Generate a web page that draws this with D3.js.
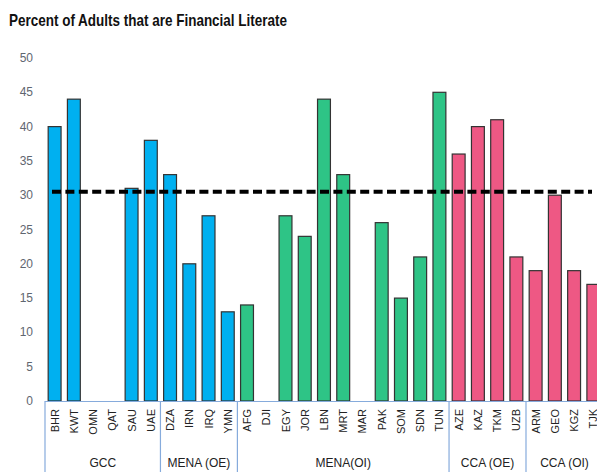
<!DOCTYPE html>
<html>
<head>
<meta charset="utf-8">
<script src="https://cdn.jsdelivr.net/npm/d3@7"></script>
<style>
  body { margin: 0; background: #fff; }
  svg { display: block; }
</style>
</head>
<body>
<div class="chart"></div>
<script>
// data
var countries = ["BHR","KWT","OMN","QAT","SAU","UAE",
                 "DZA","IRN","IRQ","YMN",
                 "AFG","DJI","EGY","JOR","LBN","MRT","MAR","PAK","SOM","SDN","TUN",
                 "AZE","KAZ","TKM","UZB",
                 "ARM","GEO","KGZ","TJK"];
var literacy = [40,44,null,null,31,38,
                33,20,27,13,
                14,null,27,24,44,33,null,26,15,21,45,
                36,40,41,21,
                19,30,19,17];
var groupNames = ["GCC","MENA (OE)","MENA(OI)","CCA (OE)","CCA (OI)"];
var groupSizes = [6,4,11,4,4];
var groupColors = ["#00b0f0","#00b0f0","#2ec486","#ee5884","#ee5884"];
var average = 30.5;
var yTicks = [0,5,10,15,20,25,30,35,40,45,50];

var W = 597, H = 472;
var plotLeft = 45, plotTop = 58, plotBottom = 401;
var band = 19.24;
var plotRight = plotLeft + band * countries.length;

var svg = d3.select(".chart").append("svg")
    .attr("width", W).attr("height", H);

// which group each country is in
var groupOf = [];
groupSizes.forEach((n, g) => { for (var i = 0; i < n; i++) groupOf.push(g); });

var x = d3.scaleBand().domain(countries).range([plotLeft, plotRight]).paddingInner(0.33).paddingOuter(0.165);
var y = d3.scaleLinear().domain([0, 50]).range([plotBottom, plotTop]);

svg.append("text")
    .attr("x", 9).attr("y", 26)
    .attr("font-family", "Liberation Sans Narrow, Arial Narrow, Liberation Sans, sans-serif")
    .attr("font-weight", "bold").attr("font-size", 17)
    .attr("textLength", 278).attr("lengthAdjust", "spacingAndGlyphs")
    .attr("fill", "#111")
    .text("Percent of Adults that are Financial Literate");

// y tick labels only, no axis line
svg.append("g").selectAll("text")
    .data(yTicks).enter()
    .append("text")
    .attr("x", 33).attr("y", d => y(d) + 4)
    .attr("text-anchor", "end")
    .attr("font-family", "Liberation Sans, sans-serif").attr("font-size", 12)
    .attr("fill", "#5f6670")
    .text(d => d);

// bars
svg.append("g").selectAll("rect")
    .data(countries.map((c, i) => ({c: c, v: literacy[i], g: groupOf[i]})).filter(d => d.v != null))
    .enter().append("rect")
    .attr("x", d => x(d.c))
    .attr("y", d => y(d.v))
    .attr("width", x.bandwidth())
    .attr("height", d => plotBottom - y(d.v))
    .attr("fill", d => groupColors[d.g])
    .attr("stroke", "#333").attr("stroke-width", 1.2);

// x axis frame
var axisColor = "#86abdc";
svg.append("line")
    .attr("x1", plotLeft).attr("x2", W).attr("y1", plotBottom + 0.5).attr("y2", plotBottom + 0.5)
    .attr("stroke", axisColor).attr("stroke-width", 1.2);

var bounds = [0];
groupSizes.forEach(n => bounds.push(bounds[bounds.length - 1] + n));
svg.append("g").selectAll("line")
    .data(bounds.slice(0, -1)).enter()
    .append("line")
    .attr("x1", d => plotLeft + d * band).attr("x2", d => plotLeft + d * band)
    .attr("y1", plotBottom).attr("y2", H)
    .attr("stroke", axisColor).attr("stroke-width", 1.2);

// country labels
svg.append("g").selectAll("text")
    .data(countries).enter()
    .append("text")
    .attr("transform", d => "translate(" + (x(d) + x.bandwidth() / 2 + 4) + ",409) rotate(-90)")
    .attr("text-anchor", "end")
    .attr("font-family", "Liberation Sans, sans-serif").attr("font-size", 11)
    .attr("fill", "#222")
    .text(d => d);

// group labels
svg.append("g").selectAll("text")
    .data(groupNames).enter()
    .append("text")
    .attr("x", (d, i) => plotLeft + (bounds[i] + bounds[i + 1]) / 2 * band)
    .attr("y", 467)
    .attr("text-anchor", "middle")
    .attr("font-family", "Liberation Sans, sans-serif").attr("font-size", 12)
    .attr("fill", "#222")
    .text(d => d);

// average line
svg.append("line")
    .attr("x1", 52).attr("x2", 592)
    .attr("y1", y(average)).attr("y2", y(average))
    .attr("stroke", "#000").attr("stroke-width", 4)
    .attr("stroke-dasharray", "9,4.4");
</script>
</body>
</html>
